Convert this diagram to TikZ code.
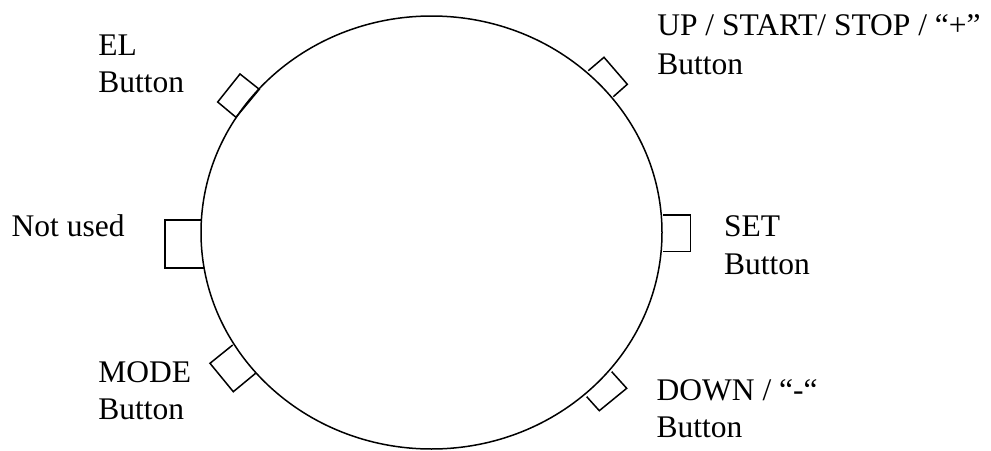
\documentclass[tikz,border=0pt]{standalone}
\usepackage{fontspec}
\setmainfont{Liberation Serif}
\usetikzlibrary{shapes.geometric}
\begin{document}
\begin{tikzpicture}[x=1pt,y=-1pt,
  lbl/.style={anchor=base west,inner sep=0pt,outer sep=0pt,font=\fontsize{31.5}{37}\selectfont},
  btn/.style={draw=black,line width=1.5pt,line join=miter},
  dialstyle/.style={draw=black,line width=1.5pt,ellipse,minimum width=461pt,minimum height=433pt,inner sep=0pt}]
\useasboundingbox (0,0) rectangle (991,450);
\node[dialstyle] (dial) at (431.5,232.5) {};
% buttons
\draw[btn] (240,74) -- (259.3,89.3) -- (236,117.3) -- (217.7,102) -- cycle;
\draw[btn] (588.3,70.7) -- (604,57.3) -- (627.3,84.3) -- (613.3,96.7);
\draw[btn] (201.5,220) -- (165,220) -- (165,268) -- (203.5,268);
\draw[btn] (662.5,215) -- (690.5,215) -- (690.5,251.7) -- (662.5,251.7);
\draw[btn] (232.7,345) -- (210,363.3) -- (233.3,391.7) -- (255.6,373.3);
\draw[btn] (611.7,371.7) -- (626.7,388.3) -- (599.3,410.7) -- (586.7,396.7);
% labels
\node[lbl] (el1) at (98.3,55) {EL};
\node[lbl] (el2) at (98.3,92) {Button};
\node[lbl] (up1) at (657.3,35.5) {UP / START/ STOP / “+”};
\node[lbl] (up2) at (657.3,74) {Button};
\node[lbl] (nu) at (11.7,236) {Not used};
\node[lbl] (set1) at (724,236.7) {SET};
\node[lbl] (set2) at (724,274) {Button};
\node[lbl] (mode1) at (98.3,382.3) {MODE};
\node[lbl] (mode2) at (98.3,419.3) {Button};
\node[lbl] (down1) at (656.7,400.7) {DOWN / “-“};
\node[lbl] (down2) at (656.7,437.3) {Button};
\end{tikzpicture}
\end{document}
